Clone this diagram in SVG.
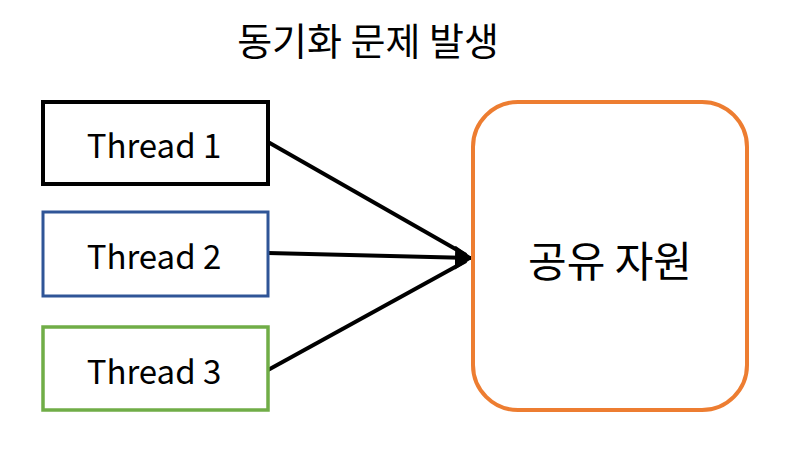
<svg xmlns="http://www.w3.org/2000/svg" width="800" height="450" viewBox="0 0 800 450">
<defs>
<style>
text{font-family:"Noto Sans CJK KR","Noto Sans",sans-serif;fill:#000;text-anchor:middle;dominant-baseline:central}
.box{fill:#fff}
.lbl{font-size:33px}
.conn{stroke:#000;stroke-width:4;fill:none}
</style>
<marker id="ah" markerWidth="4.5" markerHeight="6" refX="4" refY="3" orient="auto" markerUnits="strokeWidth">
<path d="M0,0 L4.5,3 L0,6 z" fill="#000"/>
</marker>
</defs>
<rect width="800" height="450" fill="#fff"/>
<text x="368" y="38" font-size="38">동기화 문제 발생</text>
<g id="connectors">
<line class="conn" x1="268" y1="142" x2="466" y2="255"/>
<line class="conn" x1="268" y1="370" x2="466" y2="261"/>
<line class="conn" x1="268" y1="253" x2="471" y2="258" marker-end="url(#ah)"/>
</g>
<g id="thread1">
<rect class="box" x="43" y="102" width="225" height="82" stroke="#000" stroke-width="4"/>
<text class="lbl" x="154" y="144">Thread 1</text>
</g>
<g id="thread2">
<rect class="box" x="43" y="212" width="225" height="84" stroke="#2F5597" stroke-width="3"/>
<text class="lbl" x="154" y="255">Thread 2</text>
</g>
<g id="thread3">
<rect class="box" x="43" y="327" width="225" height="83" stroke="#70AD47" stroke-width="3.5"/>
<text class="lbl" x="154" y="370">Thread 3</text>
</g>
<g id="shared">
<rect class="box" x="473" y="102" width="274" height="308" rx="45" stroke="#ED7D31" stroke-width="4"/>
<text x="610" y="258" font-size="42">공유 자원</text>
</g>
</svg>
